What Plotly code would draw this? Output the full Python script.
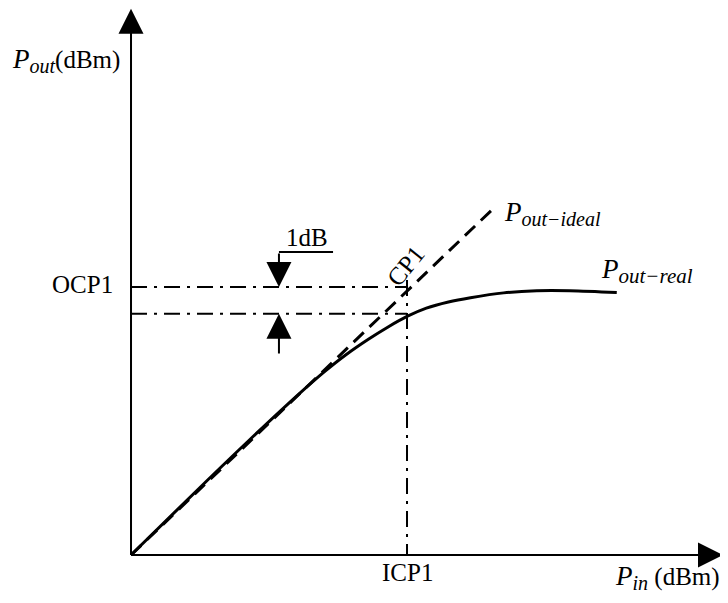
import plotly.graph_objects as go

# ---- data (abstract dBm-like units) ----
pin_real = [0, 2.5, 4.3, 6.1, 7.0, 7.8, 8.6, 9.3, 10.0, 10.7, 11.5, 12.3, 13.5, 14.7, 15.9, 17.6]
pout_real = [0, 2.52, 4.3, 6.02, 6.83, 7.48, 8.05, 8.5, 8.9, 9.21, 9.44, 9.6, 9.78, 9.86, 9.86, 9.79]

pin_ideal = [0, 13.1]
pout_ideal = [0, 12.9]

icp1 = 10.0          # input 1 dB compression point
ocp1 = 10.0          # output 1 dB compression point (ideal)
ocp1_real = 9.0      # real output at ICP1 (1 dB lower)
vline_top = 10.26

x_axis_end = 21.45
y_axis_end = 20.38

arrow_x = 5.36
leader_top = 11.31
leader_right = 7.32
up_tail = 7.46

x_range = [-4.457, 21.630]
y_range = [-1.493, 20.410]

FONT = "Liberation Serif"
FS = 25
BLACK = "#000000"

fig = go.Figure()

# axes lines
fig.add_trace(go.Scatter(x=[0, x_axis_end - 0.3], y=[0, 0], mode="lines",
                         line=dict(color=BLACK, width=2), hoverinfo="skip"))
fig.add_trace(go.Scatter(x=[0, 0], y=[0, y_axis_end - 0.3], mode="lines",
                         line=dict(color=BLACK, width=2), hoverinfo="skip"))

# dash-dot guide lines
dd = "16px,7px,3px,7px"
fig.add_trace(go.Scatter(x=[0, icp1], y=[ocp1, ocp1], mode="lines",
                         line=dict(color=BLACK, width=2, dash=dd), hoverinfo="skip"))
fig.add_trace(go.Scatter(x=[0, icp1], y=[ocp1_real, ocp1_real], mode="lines",
                         line=dict(color=BLACK, width=2, dash=dd), hoverinfo="skip"))
fig.add_trace(go.Scatter(x=[icp1, icp1], y=[vline_top, 0], mode="lines",
                         line=dict(color=BLACK, width=2, dash=dd), hoverinfo="skip"))

# ideal line (dashed)
fig.add_trace(go.Scatter(x=pin_ideal, y=pout_ideal, mode="lines",
                         line=dict(color=BLACK, width=3, dash="14px,8px"), hoverinfo="skip"))

# real curve
fig.add_trace(go.Scatter(x=pin_real, y=pout_real, mode="lines",
                         line=dict(color=BLACK, width=3, shape="spline", smoothing=1.0),
                         hoverinfo="skip"))

# 1dB leader line
fig.add_trace(go.Scatter(x=[arrow_x, leader_right], y=[leader_top, leader_top], mode="lines",
                         line=dict(color=BLACK, width=2), hoverinfo="skip"))

def arrow(x, y, ax, ay):
    fig.add_annotation(x=x, y=y, ax=ax, ay=ay, xref="x", yref="y", axref="x", ayref="y",
                       text="", showarrow=True, arrowhead=2, arrowsize=2.5,
                       arrowwidth=2, arrowcolor=BLACK, standoff=0)

arrow(x_axis_end, 0, 0, 0)
arrow(0, y_axis_end, 0, 0)
arrow(arrow_x, ocp1, arrow_x, leader_top)
arrow(arrow_x, ocp1_real, arrow_x, up_tail)

def label(x, y, text, xanchor="center", yanchor="middle", angle=0):
    fig.add_annotation(x=x, y=y, xref="x", yref="y", text=text, showarrow=False,
                       xanchor=xanchor, yanchor=yanchor, textangle=angle,
                       font=dict(family=FONT, size=FS, color=BLACK))

def pl(sub, rest="", subsize=20):
    return ("<span style='font-size:27px'><i>P</i></span>"
            "<sub><span style='font-size:%dpx'><i>" % subsize + sub + "</i></span></sub>" + rest)

label(-0.58, 10.1, "OCP1", xanchor="right")
label(10.0, -0.65, "ICP1")
label(19.45, -0.85, pl("in", " (dBm)"))
label(-2.36, 18.45, pl("out", "(dBm)"))
label(13.44, 12.75, pl("out−ideal"), xanchor="left")
label(16.97, 10.6, pl("out−real", subsize=21), xanchor="left")
label(6.36, 11.83, "1dB")
label(9.93, 10.78, "CP1", angle=-51)

fig.update_layout(
    width=720, height=587,
    margin=dict(l=0, r=0, t=0, b=0),
    paper_bgcolor="white", plot_bgcolor="white",
    showlegend=False,
    xaxis=dict(range=x_range, visible=False, fixedrange=True),
    yaxis=dict(range=y_range, visible=False, fixedrange=True),
)

fig.write_html("out.html")
